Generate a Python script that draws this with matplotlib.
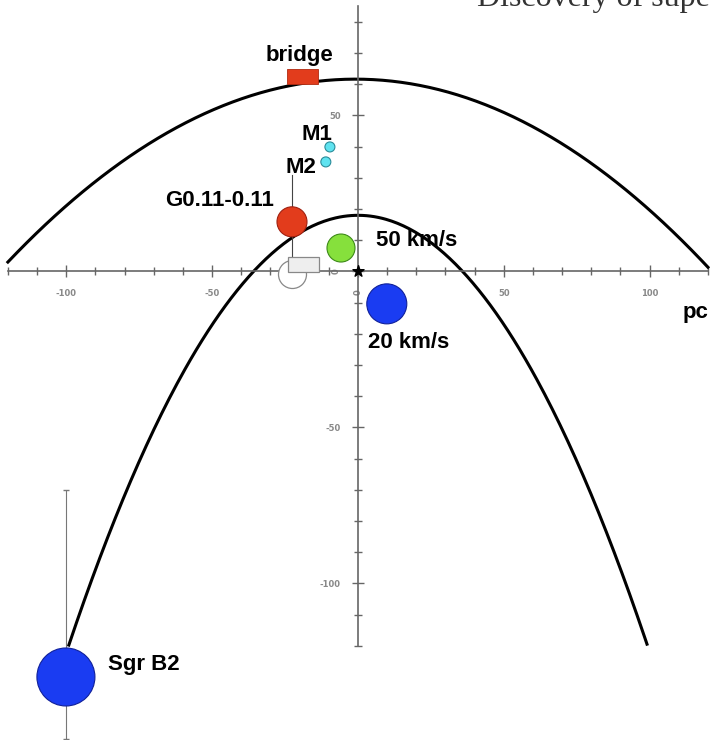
import numpy as np
import matplotlib.pyplot as plt
from matplotlib.patches import Rectangle
from matplotlib.ticker import FixedLocator

# points (pc)
outer_x = [-120, -88.4, -54.2, -18.9, 0, 120]
outer_y = [2.7, 30.3, 50.2, 60.1, 61.4, 1.4]
inner_x = [-99.1, -87.4, -65.5, -43.9, 0, 38.4, 69.2, 99.1]
inner_y = [-119.7, -89.3, -42.1, -9.1, 17.8, -2.7, -48.6, -119.7]

# clouds (pc)
cloud_names = ['Sgr B2', '20 km/s', '50 km/s', 'G0.11-0.11', 'M2', 'M1']
cloud_x = [-100.1, 9.9, -5.8, -22.6, -11.0, -9.6]
cloud_y = [-130.0, -10.4, 7.5, 15.9, 35.1, 39.9]

# unlabeled open circle
open_x = [-22.6]
open_y = [-0.8]

# boxes (x0, y0, width, height) in pc
bridge_box = [-24.3, 60.1, 10.5, 4.8]
white_box = [-24.0, -0.2, 10.5, 4.8]

# vertical extents (x, y_low, y_high)
g011_bar = [-22.6, 2.0, 30.9]
sgrb2_bar = [-100.1, -150.0, -70.0]

# axis ticks
xmajor = [-100, -50, 0, 50, 100]
ymajor = [-100, -50, 0, 50]
xminor = list(range(-120, 121, 10))
yminor = list(range(-120, 81, 10))

radius_px = [29, 20, 14, 15, 5, 5]
face = ['#1a3cf2', '#1a3cf2', '#86e03c', '#e23c1c', '#5fe3f0', '#5fe3f0']
edge = ['#10209a', '#10209a', '#3d8a18', '#a02010', '#2a8c9a', '#2a8c9a']

fig = plt.figure(figsize=(7.1, 7.4), dpi=100)
ax = fig.add_axes([0, 0, 1, 1])
ax.set_xlim(-122.7, 120.7)
ax.set_ylim(-150.2, 87.0)

# axes through origin
for s in ['top', 'right']:
    ax.spines[s].set_visible(False)
ax.spines['left'].set_position(('data', 0))
ax.spines['bottom'].set_position(('data', 0))
ax.spines['left'].set_bounds(-120, 85)
ax.spines['bottom'].set_bounds(-120, 120)
for s in ['left', 'bottom']:
    ax.spines[s].set_color('#666666')
    ax.spines[s].set_linewidth(1.2)
ax.xaxis.set_major_locator(FixedLocator(xmajor))
ax.yaxis.set_major_locator(FixedLocator(ymajor))
ax.xaxis.set_minor_locator(FixedLocator(xminor))
ax.yaxis.set_minor_locator(FixedLocator(yminor))
ax.set_xticklabels([str(v) for v in xmajor])
ax.set_yticklabels([str(v) for v in ymajor])
ax.tick_params(which='major', direction='inout', length=9, width=1, color='#666666',
               labelsize=6, labelcolor='#888888', pad=8)
ax.tick_params(which='minor', direction='inout', length=6, width=1, color='#666666')
for lab in ax.get_xticklabels() + ax.get_yticklabels():
    lab.set_fontweight('bold')
    if lab.get_text() == '0':
        lab.set_rotation(90)

# orbit curves
po = np.polyfit(outer_x, outer_y, 2)
xs = np.linspace(min(outer_x), max(outer_x), 300)
ax.plot(xs, np.polyval(po, xs), color='black', lw=2.2, zorder=2)
pi = np.polyfit(inner_x, inner_y, 2)
xs = np.linspace(min(inner_x), max(inner_x), 300)
ax.plot(xs, np.polyval(pi, xs), color='black', lw=2.2, zorder=2)

# vertical extents
ax.plot([g011_bar[0]] * 2, g011_bar[1:], color='#444444', lw=0.8, zorder=3)
ax.errorbar(sgrb2_bar[0], (sgrb2_bar[1] + sgrb2_bar[2]) / 2,
            yerr=(sgrb2_bar[2] - sgrb2_bar[1]) / 2, color='#777777',
            elinewidth=0.8, capsize=2, fmt='none', zorder=3)

# clouds
sizes = [(1.44 * r) ** 2 for r in radius_px]
ax.scatter(cloud_x, cloud_y, s=sizes, c=face, edgecolors=edge, linewidths=0.8, zorder=4)
ax.scatter(open_x, open_y, s=(1.44 * 14) ** 2, c='white', edgecolors='#888888',
           linewidths=0.9, zorder=4)
ax.add_patch(Rectangle(white_box[:2], white_box[2], white_box[3],
                       facecolor='#eeeeee', edgecolor='#888888', lw=0.9, zorder=5))
ax.add_patch(Rectangle(bridge_box[:2], bridge_box[2], bridge_box[3],
                       facecolor='#e23c1c', edgecolor='#b02a10', lw=0.6, zorder=5))
ax.scatter([0], [0], marker='*', s=70, color='black', zorder=6)

# labels
fnt = dict(family='Liberation Sans', fontweight='bold', fontsize=16, va='center', zorder=7)
ax.text(-19.9, 69.1, 'bridge', ha='center', **fnt)
ax.text(-19.2, 43.8, 'M1', ha='left', **fnt)
ax.text(-24.7, 33.2, 'M2', ha='left', **fnt)
ax.text(-66.2, 22.6, 'G0.11-0.11', ha='left', **fnt)
ax.text(6.2, 9.8, '50 km/s', ha='left', **fnt)
ax.text(3.4, -22.9, '20 km/s', ha='left', **fnt)
ax.text(-85.7, -126.0, 'Sgr B2', ha='left', **fnt)
ax.text(111.4, -13.3, 'pc', ha='left', **fnt)

# header of the source page, cut at the top edge
fig.text(0.672, 0.9925, 'Discovery of superbubble', family='Liberation Serif',
         fontsize=23, color='#333333', va='baseline', ha='left')

fig.savefig('out.png', dpi=100)
